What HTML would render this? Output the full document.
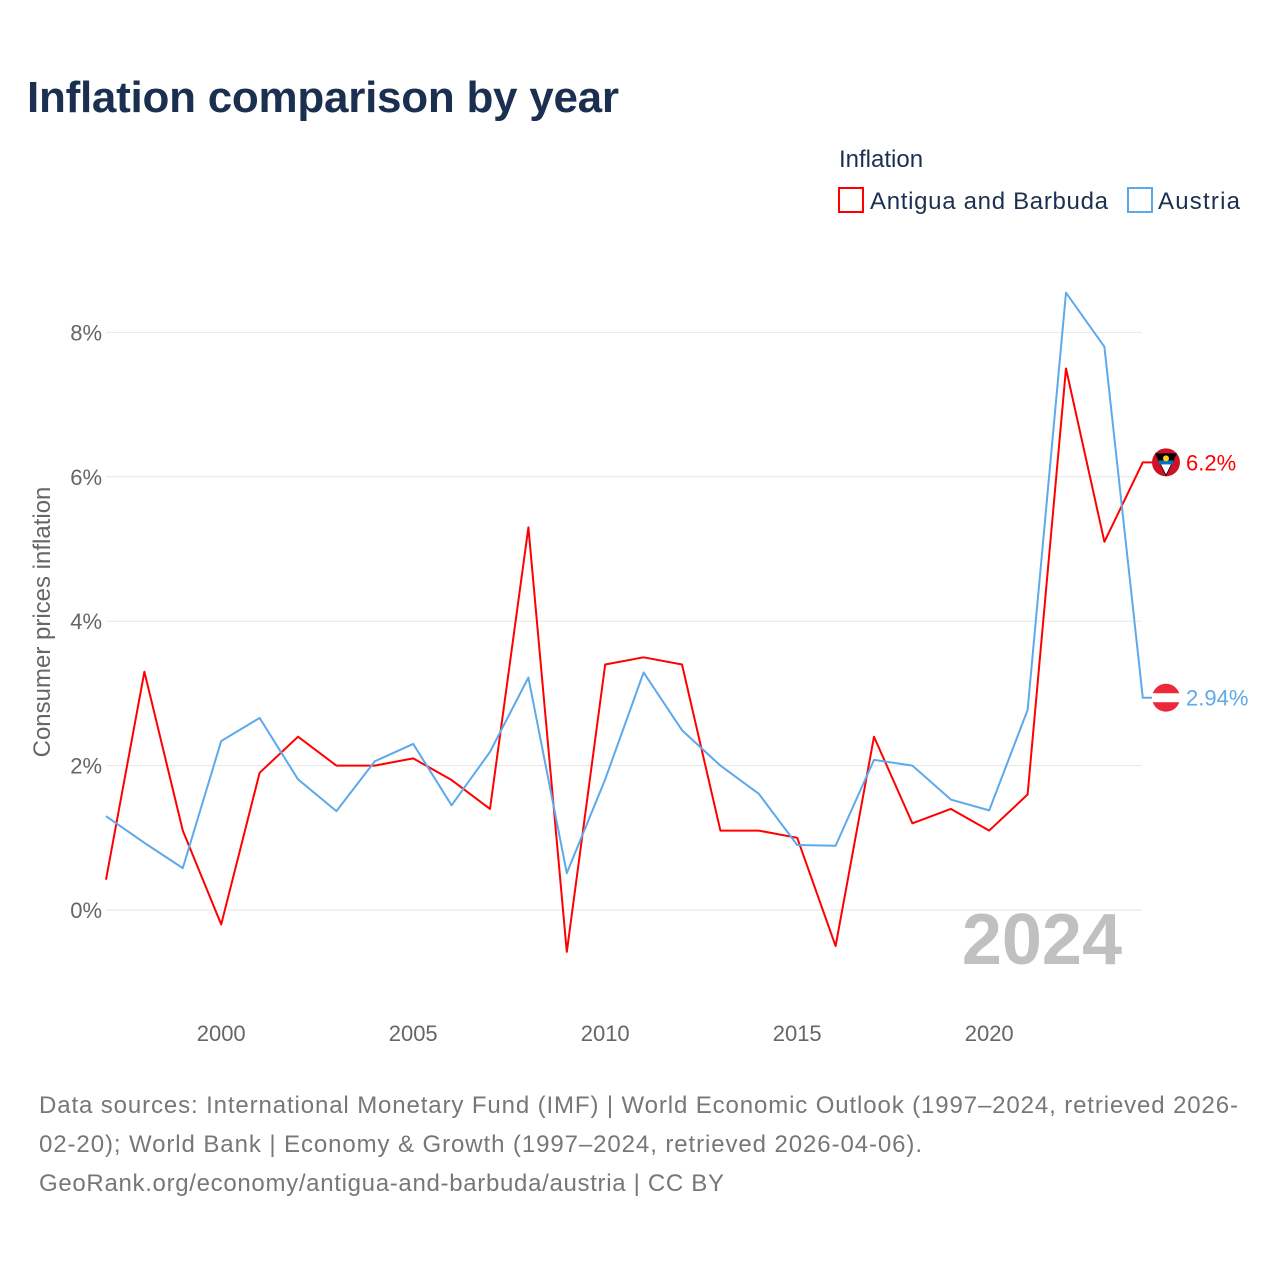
<!DOCTYPE html>
<html><head><meta charset="utf-8"><style>
body{margin:0;background:#fff;font-family:"Liberation Sans",sans-serif;}
</style></head><body>
<svg id="chart" width="1280" height="1280" viewBox="0 0 1280 1280" xmlns="http://www.w3.org/2000/svg" font-family="Liberation Sans, sans-serif">
<rect width="1280" height="1280" fill="#fff"/>
<text x="27" y="112" font-size="44" font-weight="bold" fill="#1b3050" textLength="592">Inflation comparison by year</text>
<text x="839" y="167" font-size="24" fill="#1b3050">Inflation</text>
<rect x="839" y="188" width="24" height="24" fill="none" stroke="#ff0000" stroke-width="2"/>
<text x="870" y="209" font-size="24" fill="#1b3050" textLength="238">Antigua and Barbuda</text>
<rect x="1128" y="188" width="24" height="24" fill="none" stroke="#5ea9ea" stroke-width="2"/>
<text x="1158" y="209" font-size="24" fill="#1b3050" textLength="82">Austria</text>
<g id="grid"></g>
<text transform="translate(50,622) rotate(-90)" text-anchor="middle" font-size="24" fill="#666">Consumer prices inflation</text>
<text x="1122" y="964" text-anchor="end" font-size="72" font-weight="bold" fill="#c0c0c0">2024</text>
<g id="series"></g>
<text font-size="24" fill="#777">
<tspan x="39" y="1113" textLength="1199">Data sources: International Monetary Fund (IMF) | World Economic Outlook (1997–2024, retrieved 2026-</tspan>
<tspan x="39" y="1152" textLength="883">02-20); World Bank | Economy &amp; Growth (1997–2024, retrieved 2026-04-06).</tspan>
<tspan x="39" y="1191" textLength="685">GeoRank.org/economy/antigua-and-barbuda/austria | CC BY</tspan>
</text>
</svg>
<script>
const years=[1997,1998,1999,2000,2001,2002,2003,2004,2005,2006,2007,2008,2009,2010,2011,2012,2013,2014,2015,2016,2017,2018,2019,2020,2021,2022,2023,2024];
const antigua=[0.42,3.3,1.1,-0.2,1.9,2.4,2.0,2.0,2.1,1.8,1.4,5.3,-0.58,3.4,3.5,3.4,1.1,1.1,1.0,-0.5,2.4,1.2,1.4,1.1,1.6,7.5,5.1,6.2];
const austria=[1.3,0.93,0.58,2.34,2.66,1.81,1.37,2.06,2.3,1.45,2.19,3.22,0.51,1.81,3.29,2.49,2.0,1.61,0.9,0.89,2.08,2.0,1.53,1.38,2.77,8.55,7.8,2.94];
const yTicks=[0,2,4,6,8];
const xTicks=[2000,2005,2010,2015,2020];
const ns="http://www.w3.org/2000/svg";
const X=y=>106+(y-1997)*38.4;
const Y=v=>910-v*72.2;
function mk(tag,attrs,parent){const e=document.createElementNS(ns,tag);for(const k in attrs)e.setAttribute(k,attrs[k]);parent.appendChild(e);return e;}
const grid=document.getElementById('grid');
yTicks.forEach(t=>{
 const l=mk('line',{x1:106,x2:1142,y1:Y(t),y2:Y(t),stroke:'#e6e6e6','stroke-width':1},grid);
 
 
 const tx=mk('text',{x:102,y:Y(t)+8,'text-anchor':'end','font-size':22,fill:'#666'},grid);
 tx.textContent=t+'%';
 
 
});
xTicks.forEach(t=>{
 const tx=mk('text',{x:X(t),y:1041,'text-anchor':'middle','font-size':22,fill:'#666'},grid);
 tx.textContent=t;
 
 
});
const s=document.getElementById('series');
function draw(vals,color,name){
 const pts=vals.map((v,i)=>X(years[i])+','+Y(v)).join(' ');
 const last=vals[vals.length-1];
 const p=mk('polyline',{points:pts+' '+(X(2024)+23)+','+Y(last),fill:'none',stroke:color,'stroke-width':2,'stroke-linejoin':'round'},s);
 
 
 return last;
}
const a=draw(antigua,'#ff0000','antigua');
const b=draw(austria,'#5ea9ea','austria');
const fa=mk('g',{},s);


const ay=Y(a);
mk('circle',{cx:1166,cy:ay,r:14,fill:'#ce1126'},fa);
mk('polygon',{points:`1155,${ay-9} 1177,${ay-9} 1166,${ay+14}`,fill:'#000'},fa);
mk('rect',{x:1159,y:ay-2,width:14,height:4,fill:'#0072c6'},fa);
mk('polygon',{points:`1161,${ay+2} 1171,${ay+2} 1166,${ay+12}`,fill:'#fff'},fa);
mk('circle',{cx:1166,cy:ay-4,r:3,fill:'#fcd116'},fa);
const at=mk('text',{x:1186,y:ay+8,'font-size':22,fill:'#ff0000'},s);
at.textContent=a+'%';


const fb=mk('g',{},s);


const by=Y(b);
mk('circle',{cx:1166,cy:by,r:14,fill:'#ed2939'},fb);
mk('rect',{x:1152,y:by-4.5,width:28,height:9,fill:'#fff'},fb);
const bt=mk('text',{x:1186,y:by+8,'font-size':22,fill:'#5ea9ea'},s);
bt.textContent=b+'%';


</script>
</body></html>
